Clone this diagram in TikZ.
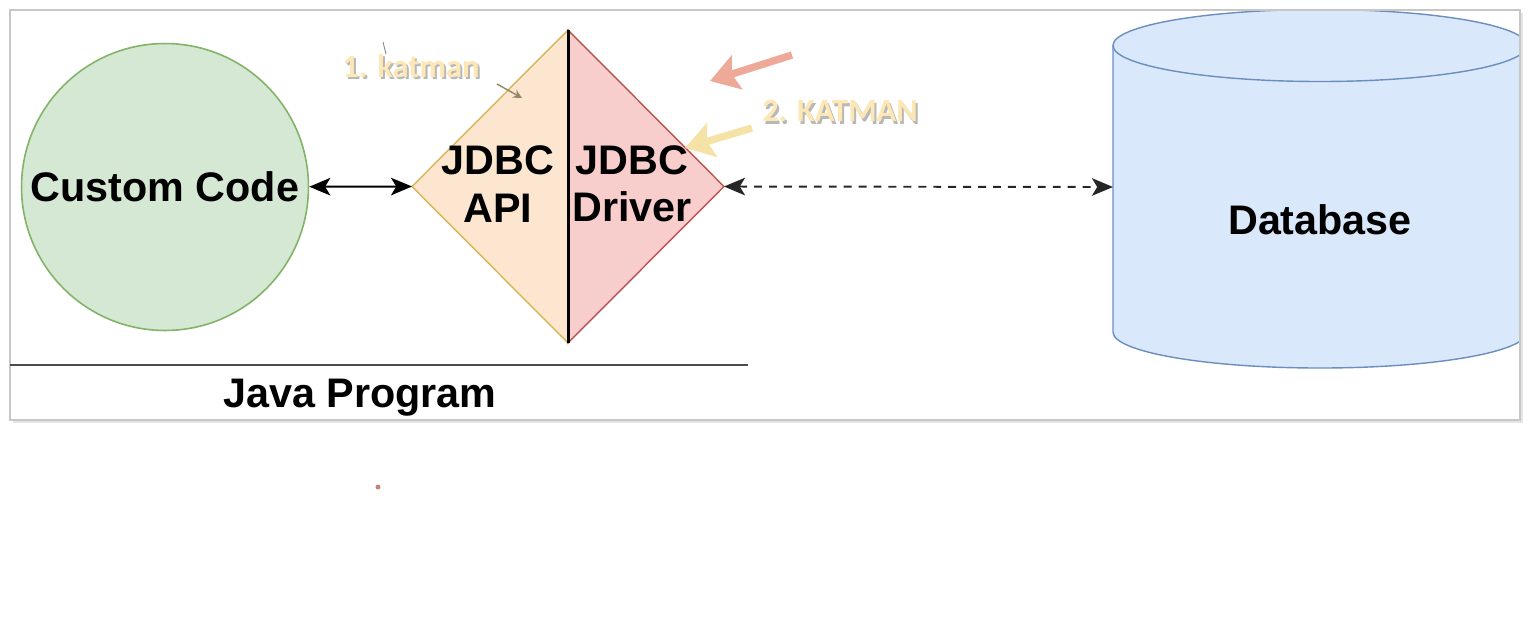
\documentclass[tikz,border=0pt]{standalone}
\usepackage{fontspec}
\setmainfont{Liberation Sans}
\newfontfamily\annofont{Carlito}
\usepackage{xcolor}
\usetikzlibrary{shapes.geometric, arrows.meta, positioning, calc}
\definecolor{codegreen}{HTML}{D5E8D4}
\definecolor{codegreenline}{HTML}{82B366}
\definecolor{apiorange}{HTML}{FCE6CF}
\definecolor{apiline}{HTML}{D6B656}
\definecolor{drvred}{HTML}{F8CECC}
\definecolor{drvline}{HTML}{B85450}
\definecolor{dbblue}{HTML}{DAE8FC}
\definecolor{dbline}{HTML}{6C8EBF}
\definecolor{annocream}{HTML}{FDE7B4}
\definecolor{annosalmon}{HTML}{EEA999}
\definecolor{annoyellow}{HTML}{F5E2A6}

\begin{document}
\begin{tikzpicture}[
    x=0.02cm, y=-0.02cm,
    font=\fontsize{23.5}{27}\selectfont\bfseries,
    >={Stealth[length=12pt, width=10pt, inset=3pt]},
    frame/.style={draw=black!22, line width=0.6pt},
    comp/.style={circle, draw=codegreenline, fill=codegreen, line width=0.9pt, minimum size=5.74cm, inner sep=0pt},
    layer/.style={diamond, draw=none, minimum width=6.24cm, minimum height=6.26cm, inner sep=0pt, outer sep=0pt},
    apihalf/.style={fill=apiorange, draw=apiline, line width=0.8pt},
    drvhalf/.style={fill=drvred, draw=drvline, line width=0.8pt},
    dbshape/.style={fill=dbblue, draw=dbline, line width=0.8pt},
    txt/.style={align=center, inner sep=0pt},
    link/.style={<->, black, line width=1.1pt},
    dblink/.style={<->, black!85, line width=1.1pt, dash pattern=on 4.5pt off 4pt},
    anno/.style={font=\annofont\fontsize{18.5}{20}\selectfont\bfseries, text=annocream, inner sep=0pt},
    annoshadow/.style={font=\annofont\fontsize{18.5}{20}\selectfont\bfseries, text=black!28, inner sep=0pt},
    pointer/.style={line width=4.2pt, -{Stealth[length=16pt, width=20pt, inset=3pt]}},
]
\useasboundingbox (0,0) rectangle (1530,630);

% --- Screenshot frame with soft shadow ---
\fill[black!10] (13,13) rectangle (1523,423);
\fill[white] (10,10) rectangle (1520,420);

% --- Database cylinder (cut by the frame on the right) ---
\begin{scope}
    \clip (10,10) rectangle (1520,420);
    \filldraw[dbshape] (1113,45.5) -- (1113,332) arc[start angle=180, end angle=0, x radius=207, y radius=36] -- (1527,45.5) -- cycle;
    \filldraw[dbshape] (1320,45.5) ellipse [x radius=207, y radius=36];
\end{scope}
\node[txt] (db) at (1320,220) {Database};
\coordinate (dbside) at (1113,187);
\draw[frame] (10,10) rectangle (1520,420);

% --- Custom code ---
\node[comp] (code) at (165,187) {Custom Code};

% --- JDBC diamond: API half and driver half ---
\node[layer] (jdbc) at (568,186.5) {};
\filldraw[apihalf] (jdbc.north) -- (jdbc.west) -- (jdbc.south) -- cycle;
\filldraw[drvhalf] (jdbc.north) -- (jdbc.east) -- (jdbc.south) -- cycle;
\draw[black, line width=1.7pt] (jdbc.north) -- (jdbc.south);
\node[txt] (api) at (498,184) {JDBC\\API};
\node[txt] (drv) at (632,184) {JDBC\\Driver};

% --- Connectors ---
\draw[link] (code) -- (jdbc.west);
\draw[dblink] (jdbc.east) -- (dbside);

% --- Java program boundary ---
\draw[black!70, line width=1.2pt] (10,365) -- (748,365);
\node[txt, anchor=base] (java) at (360,407) {Java Program};

% --- Layer annotations ---
\node[annoshadow] (kat1shadow) at (413,68.5) {1. katman};
\node[anno] (kat1) at (411,66) {1. katman};
\node[annoshadow] (kat2shadow) at (842,113.5) {2. KATMAN};
\node[anno] (kat2) at (840,111) {2. KATMAN};

\coordinate (salmontail) at (792,55);
\coordinate (salmontip) at (710,81);
\draw[pointer, annosalmon] (salmontail) -- (salmontip);
\coordinate (yellowtail) at (752,128);
\coordinate (yellowtip) at (685,148);
\draw[pointer, annoyellow] (yellowtail) -- (yellowtip);
\coordinate (smalltail) at (497,84);
\coordinate (smalltip) at (522,98);
\draw[black!40!annoyellow, line width=0.8pt, -{Stealth[length=5pt, width=5pt]}] (smalltail) -- (smalltip);
\draw[black!45, line width=0.5pt] (383,42) -- (386,54);
\fill[annosalmon!80!black] (378,487) circle [radius=2.5];

\end{tikzpicture}
\end{document}
